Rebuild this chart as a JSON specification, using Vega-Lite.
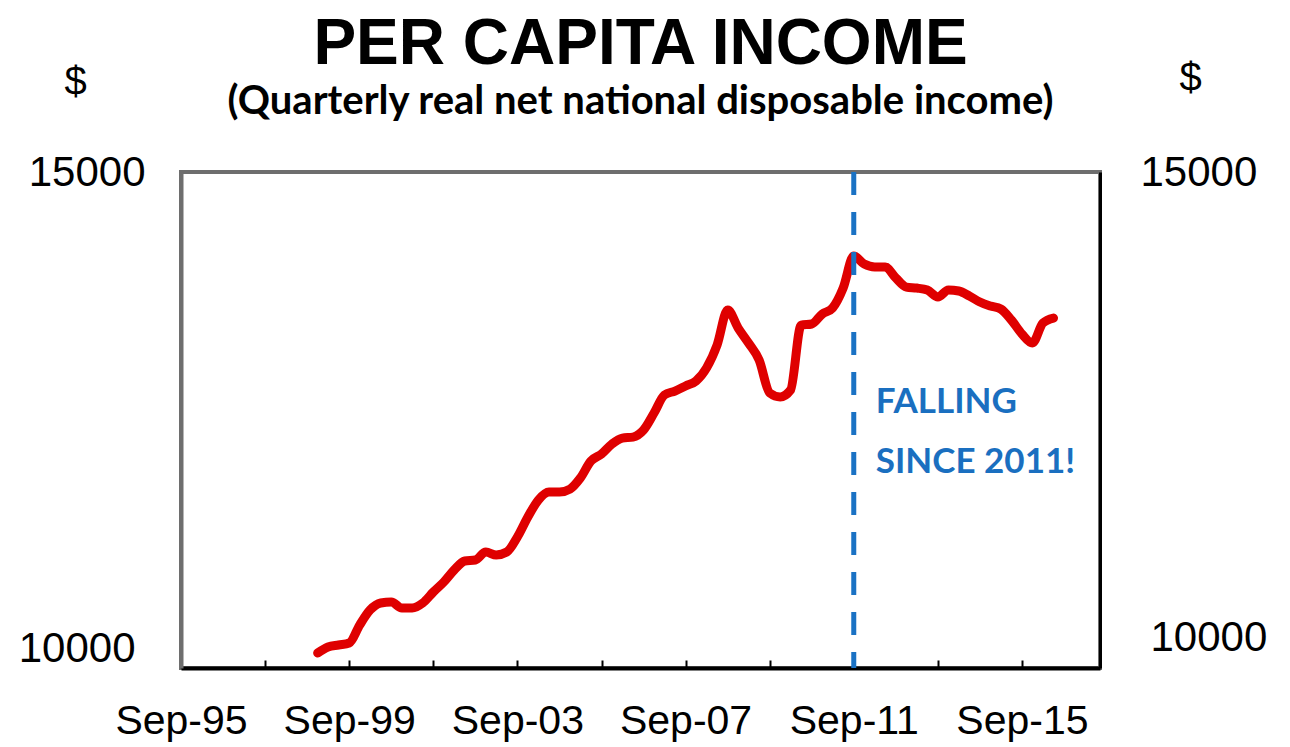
{
  "$schema": "https://vega.github.io/schema/vega-lite/v6.json",
  "autosize": "none",
  "width": 919,
  "height": 496,
  "padding": {"left": 181, "top": 172, "right": 190, "bottom": 79},
  "background": "white",
  "config": {
    "view": {"stroke": "#6e6e6e", "strokeWidth": 4},
    "font": "Liberation Sans"
  },
  "title": {
    "text": "PER CAPITA INCOME",
    "subtitle": "(Quarterly real net national disposable income)",
    "anchor": "middle",
    "frame": "group",
    "font": "Liberation Sans",
    "fontSize": 64,
    "fontWeight": "bold",
    "color": "black",
    "subtitleFont": "Lato",
    "subtitleFontSize": 40,
    "subtitleFontWeight": "bold",
    "subtitleColor": "black",
    "subtitlePadding": 5,
    "offset": -64
  },
  "layer": [
    {
      "data": {
        "values": [
          {"date": "1998-12-01", "income": 10151},
          {"date": "1999-03-01", "income": 10212},
          {"date": "1999-06-01", "income": 10232},
          {"date": "1999-09-01", "income": 10252},
          {"date": "1999-12-01", "income": 10433},
          {"date": "2000-03-01", "income": 10585},
          {"date": "2000-06-01", "income": 10655},
          {"date": "2000-09-01", "income": 10665},
          {"date": "2000-12-01", "income": 10605},
          {"date": "2001-03-01", "income": 10605},
          {"date": "2001-06-01", "income": 10655},
          {"date": "2001-09-01", "income": 10766},
          {"date": "2001-12-01", "income": 10867},
          {"date": "2002-03-01", "income": 10988},
          {"date": "2002-06-01", "income": 11079},
          {"date": "2002-09-01", "income": 11089},
          {"date": "2002-12-01", "income": 11169},
          {"date": "2003-03-01", "income": 11139},
          {"date": "2003-06-01", "income": 11169},
          {"date": "2003-09-01", "income": 11320},
          {"date": "2003-12-01", "income": 11522},
          {"date": "2004-03-01", "income": 11693},
          {"date": "2004-06-01", "income": 11774},
          {"date": "2004-09-01", "income": 11774},
          {"date": "2004-12-01", "income": 11804},
          {"date": "2005-03-01", "income": 11915},
          {"date": "2005-06-01", "income": 12087},
          {"date": "2005-09-01", "income": 12157},
          {"date": "2005-12-01", "income": 12258},
          {"date": "2006-03-01", "income": 12318},
          {"date": "2006-06-01", "income": 12328},
          {"date": "2006-09-01", "income": 12399},
          {"date": "2006-12-01", "income": 12570},
          {"date": "2007-03-01", "income": 12752},
          {"date": "2007-06-01", "income": 12792},
          {"date": "2007-09-01", "income": 12843},
          {"date": "2007-12-01", "income": 12893},
          {"date": "2008-03-01", "income": 13024},
          {"date": "2008-06-01", "income": 13256},
          {"date": "2008-09-01", "income": 13609},
          {"date": "2008-12-01", "income": 13427},
          {"date": "2009-03-01", "income": 13276},
          {"date": "2009-06-01", "income": 13105},
          {"date": "2009-09-01", "income": 12772},
          {"date": "2009-12-01", "income": 12732},
          {"date": "2010-03-01", "income": 12802},
          {"date": "2010-06-01", "income": 13457},
          {"date": "2010-09-01", "income": 13468},
          {"date": "2010-12-01", "income": 13568},
          {"date": "2011-03-01", "income": 13629},
          {"date": "2011-06-01", "income": 13830},
          {"date": "2011-09-01", "income": 14153},
          {"date": "2011-12-01", "income": 14072},
          {"date": "2012-03-01", "income": 14042},
          {"date": "2012-06-01", "income": 14042},
          {"date": "2012-09-01", "income": 13931},
          {"date": "2012-12-01", "income": 13840},
          {"date": "2013-03-01", "income": 13830},
          {"date": "2013-06-01", "income": 13810},
          {"date": "2013-09-01", "income": 13740},
          {"date": "2013-12-01", "income": 13810},
          {"date": "2014-03-01", "income": 13800},
          {"date": "2014-06-01", "income": 13750},
          {"date": "2014-09-01", "income": 13689},
          {"date": "2014-12-01", "income": 13649},
          {"date": "2015-03-01", "income": 13619},
          {"date": "2015-06-01", "income": 13508},
          {"date": "2015-09-01", "income": 13367},
          {"date": "2015-12-01", "income": 13276},
          {"date": "2016-03-01", "income": 13478},
          {"date": "2016-06-01", "income": 13528}
        ]
      },
      "mark": {"type": "line", "color": "#df0000", "strokeWidth": 9, "strokeCap": "round", "strokeJoin": "round", "interpolate": "monotone"},
      "encoding": {
        "x": {
          "field": "date", "type": "temporal",
          "scale": {"domain": ["1995-09-01", "2017-07-10"]},
          "axis": {
            "title": null,
            "values": ["1995-09-01", "1997-09-01", "1999-09-01", "2001-09-01", "2003-09-01", "2005-09-01", "2007-09-01", "2009-09-01", "2011-09-01", "2013-09-01", "2015-09-01"],
            "labelExpr": "(year(datum.value) - 1995) % 4 == 0 ? timeFormat(datum.value, '%b-%y') : ''",
            "labelFont": "Liberation Sans",
            "labelFontSize": 41,
            "labelColor": "black",
            "labelPadding": 41,
            "labelBaseline": "top",
            "labelOverlap": false,
            "labelFlush": false,
            "tickSize": -8,
            "tickWidth": 2,
            "tickColor": "black",
            "domainColor": "black",
            "domainWidth": 4,
            "grid": false
          }
        },
        "y": {
          "field": "income", "type": "quantitative",
          "scale": {"domain": [10000, 15000], "zero": false},
          "axis": {
            "orient": "left",
            "values": [10000, 15000],
            "format": "d",
            "grid": false,
            "ticks": false,
            "domainColor": "#6e6e6e",
            "domainWidth": 4,
            "labelFont": "Liberation Sans",
            "labelFontSize": 42,
            "labelColor": "black",
            "labelPadding": {"condition": {"test": "datum.value == 10000", "value": 46}, "value": 36},
            "labelOffset": {"condition": {"test": "datum.value == 10000", "value": -20}, "value": 0},
            "title": "$",
            "titleAngle": 0,
            "titleFont": "Liberation Sans",
            "titleFontSize": 40,
            "titleFontWeight": "normal",
            "titleColor": "black",
            "titleAlign": "center",
            "titleBaseline": "middle",
            "titleX": -106,
            "titleY": -90
          }
        }
      }
    },
    {
      "data": {"values": [{"date": "2011-09-01"}]},
      "mark": {"type": "rule", "color": "#1a72c4", "strokeWidth": 5, "strokeDash": [23, 17]},
      "encoding": {
        "x": {"field": "date", "type": "temporal"}
      }
    },
    {
      "data": {
        "values": [
          {"date": "2012-03-10", "income": 12681, "label": "FALLING"},
          {"date": "2012-03-10", "income": 12077, "label": "SINCE 2011!"}
        ]
      },
      "mark": {"type": "text", "align": "left", "baseline": "middle", "font": "Lato", "fontWeight": "bold", "fontSize": 35, "color": "#1a6fc0"},
      "encoding": {
        "x": {"field": "date", "type": "temporal"},
        "y": {
          "field": "income", "type": "quantitative",
          "axis": {
            "orient": "right",
            "values": [10000, 15000],
            "format": "d",
            "grid": false,
            "ticks": false,
            "domainColor": "black",
            "domainWidth": 3,
            "labelFont": "Liberation Sans",
            "labelFontSize": 42,
            "labelColor": "black",
            "labelPadding": {"condition": {"test": "datum.value == 10000", "value": 50}, "value": 40},
            "labelOffset": {"condition": {"test": "datum.value == 10000", "value": -31}, "value": 0},
            "title": "$",
            "titleAngle": 0,
            "titleFont": "Liberation Sans",
            "titleFontSize": 40,
            "titleFontWeight": "normal",
            "titleColor": "black",
            "titleAlign": "center",
            "titleBaseline": "middle",
            "titleX": 90,
            "titleY": -94
          }
        },
        "text": {"field": "label"}
      }
    }
  ],
  "resolve": {"axis": {"y": "independent"}}
}
